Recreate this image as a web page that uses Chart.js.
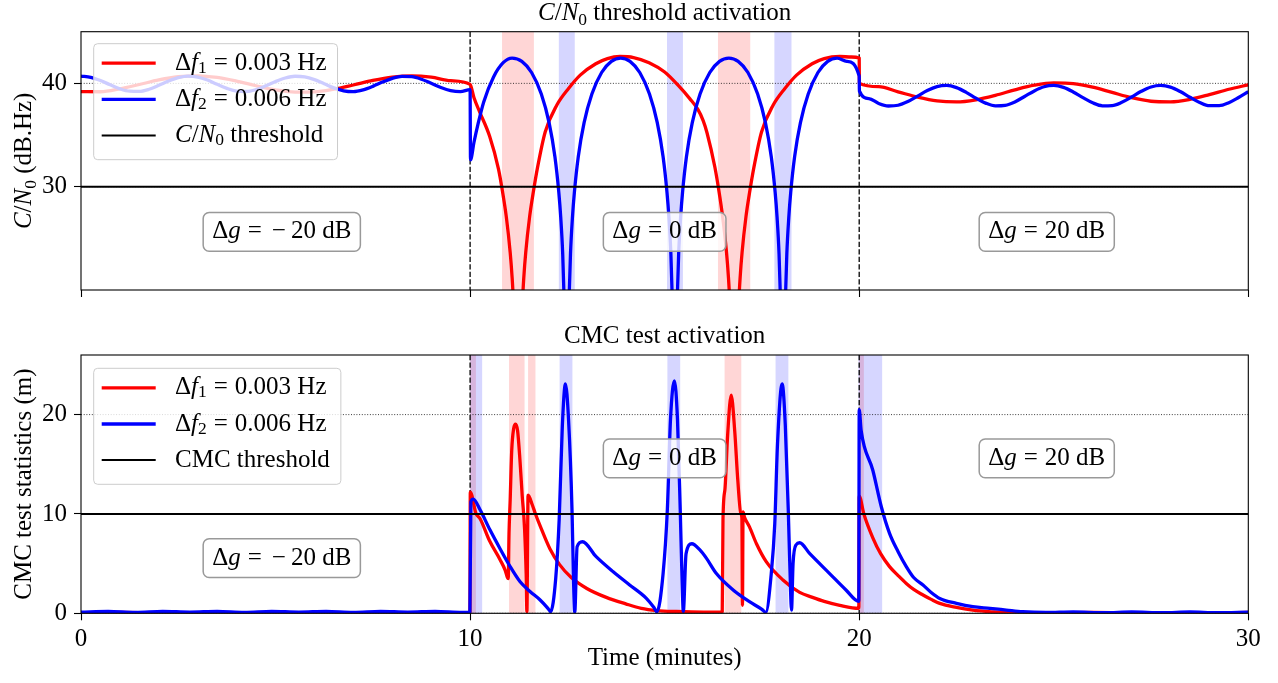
<!DOCTYPE html>
<html><head><meta charset="utf-8">
<script src="https://cdn.jsdelivr.net/npm/chart.js@4.4.1/dist/chart.umd.min.js"></script>
<style>
html,body{margin:0;padding:0;background:#fff;width:1278px;height:683px;overflow:hidden;}
canvas{position:absolute;left:0;display:block;}
#c1{top:0}
#c2{top:320px}
</style></head><body>
<canvas id="c1" width="1278" height="320"></canvas>
<canvas id="c2" width="1278" height="363"></canvas>
<script>
// ---------------- data ----------------
const timeLimits = [0, 30];
const xTicks = [0, 10, 20, 30];
const regionBounds = [10, 20];
const regionGains = ['−20', '0', '20'];
const regionCenters = [5.16, 15.0, 24.82];
const freqLabels = ['0.003', '0.006'];
const cn0Threshold = 30;
const cmcThreshold = 10;
const cn0Ticks = [30, 40];
const cmcTicks = [0, 10, 20];
const cn0Range = [20, 45];
const cmcRange = [0, 26];
const cn0LabelY = [25.63, 25.63, 25.63];
const cmcLabelY = [5.55, 15.6, 15.6];

// C/N0 (dB.Hz), [time (min), value]
const cn0Red = [[0,39.2],[0.5,39.19],[1,39.47],[1.5,39.89],[2,40.33],[2.5,40.64],[3,40.73],[3.5,40.57],[4,40.21],[4.5,39.77],[5,39.37],[5.5,39.15],[6,39.17],[6.5,39.43],[7,39.84],[7.5,40.28],[8,40.61],[8.5,40.73],[9,40.6],[9.5,40.26],[10,39.9],
[10.1,38.6],[10.25,37.2],[10.5,34.9],[10.73,31.7],[10.83,29.6],[10.93,27.1],[11.03,23.65],[11.08,21.2],[11.13,17.6],[11.18,11.6],[11.23,5],[11.28,11.6],[11.33,17.6],[11.38,21.2],[11.43,23.65],[11.53,27.1],[11.63,29.6],[11.73,31.8],[11.93,35.3],[12.23,37.9],[12.53,39.5],[12.83,40.8],[13.23,41.9],[13.53,42.4],[13.85,42.6],
[14.2,42.5],[14.6,42.0],[15.0,41.1],[15.35,39.8],[15.65,38.5],[15.85,37.5],[15.99,36.4],[16.09,35.2],[16.29,31.9],[16.39,29.7],[16.49,27.1],[16.59,23.65],[16.64,21.2],[16.69,17.6],[16.74,11.6],[16.79,5],[16.84,11.6],[16.89,17.6],[16.94,21.2],[16.99,23.65],[17.09,27.1],[17.19,29.6],[17.29,31.8],[17.49,35.3],[17.79,37.9],[18.09,39.5],[18.39,40.8],[18.79,41.9],[19.1,42.4],[19.5,42.6],[19.8,42.55],[20,42.45],
[20.005,40.0],[20.5,39.68],[21,39.18],[21.5,38.67],[22,38.3],[22.5,38.2],[23,38.41],[23.5,38.84],[24,39.37],[24.5,39.82],[25,40.05],[25.5,39.98],[26,39.63],[26.5,39.12],[27,38.61],[27.5,38.27],[28,38.21],[28.5,38.45],[29,38.91],[29.5,39.43],[30,39.86]];

const cn0Blue = [[0,40.7],[0.25,40.58],[0.5,40.27],[0.75,39.86],[1,39.47],[1.25,39.24],[1.5,39.22],[1.75,39.43],[2,39.81],[2.25,40.22],[2.5,40.55],[2.75,40.7],[3,40.61],[3.25,40.32],[3.5,39.91],[3.75,39.52],[4,39.25],[4.25,39.21],[4.5,39.4],[4.75,39.76],[5,40.18],[5.25,40.52],[5.5,40.69],[5.75,40.63],[6,40.36],[6.25,39.96],[6.5,39.56],[6.75,39.28],[7,39.2],[7.25,39.37],[7.5,39.71],[7.75,40.13],[8,40.49],[8.25,40.68],[8.5,40.65],[8.75,40.4],[9,40.01],[9.25,39.6],[9.5,39.3],[9.75,39.2],[10,39.4],
[10.01,32.6],[10.1,34.3],[10.2,36.0],[10.35,38.2],[10.6,40.6],[10.85,42.0],[11.08,42.45],[11.33,42.13],[11.58,41.05],[11.83,38.97],[12.03,36.2],[12.18,32.9],[12.28,29.45],[12.33,27.0],[12.38,23.5],[12.43,17.5],[12.48,10],[12.53,17.5],[12.58,23.5],[12.63,27.0],[12.68,29.45],[12.78,32.9],[12.93,36.2],[13.13,38.97],[13.38,41.05],[13.63,42.13],[13.87,42.45],
[14.11,42.13],[14.36,41.05],[14.61,38.97],[14.81,36.2],[14.96,32.9],[15.06,29.45],[15.11,27.0],[15.16,23.5],[15.21,17.5],[15.26,10],[15.31,17.5],[15.36,23.5],[15.41,27.0],[15.46,29.45],[15.56,32.9],[15.71,36.2],[15.91,38.97],[16.16,41.05],[16.41,42.13],[16.65,42.45],
[16.89,42.13],[17.14,41.05],[17.39,38.97],[17.59,36.2],[17.74,32.9],[17.84,29.45],[17.89,27.0],[17.94,23.5],[17.99,17.5],[18.04,10],[18.09,17.5],[18.14,23.5],[18.19,27.0],[18.24,29.45],[18.34,32.9],[18.49,36.2],[18.69,38.97],[18.94,41.05],[19.19,42.13],[19.43,42.45],[19.68,42.13],[20,40.7],
[20.005,39.26],[20.25,38.53],[20.5,38.05],[20.75,37.81],[21,37.88],[21.25,38.24],[21.5,38.77],[21.75,39.31],[22,39.69],[22.25,39.8],[22.5,39.59],[22.75,39.13],[23,38.57],[23.25,38.09],[23.5,37.82],[23.75,37.87],[24,38.2],[24.25,38.73],[24.5,39.27],[24.75,39.67],[25,39.8],[25.25,39.61],[25.5,39.17],[25.75,38.62],[26,38.12],[26.25,37.83],[26.5,37.85],[26.75,38.17],[27,38.68],[27.25,39.23],[27.5,39.65],[27.75,39.8],[28,39.64],[28.25,39.21],[28.5,38.66],[28.75,38.15],[29,37.84],[29.25,37.84],[29.5,38.13],[29.75,38.63],[30,39.19]];

// CMC test statistics (m)
const cmcRed = [[0,0.05],[1,0.08],[2,0.04],[3,0.06],[4,0.04],[5,0.07],[6,0.04],[7,0.06],[8,0.04],[9,0.06],[9.995,0.05],
[10.005,12.2],[10.15,10.06],[10.26,9.5],[10.5,7.3],[10.77,5.4],[10.9,4.35],[10.96,3.6],[10.98,3.5],[11.0,8.0],[11.03,11.4],[11.07,16.4],[11.12,18.6],[11.17,19.05],[11.22,18.4],[11.28,15.5],[11.34,11.8],[11.4,8.5],[11.44,4.0],[11.46,0.16],[11.49,11.9],[11.6,10.9],[11.68,10.0],[11.8,8.8],[12.05,6.5],[12.3,4.9],[12.6,3.6],[13.0,2.5],[13.5,1.6],[14.0,0.95],[14.4,0.5],[14.8,0.28],[15.3,0.18],[16.0,0.12],[16.48,0.15],
[16.5,9.5],[16.55,12.5],[16.62,18.0],[16.71,21.96],[16.8,18.4],[16.88,13.4],[16.96,10.0],[16.985,9.6],[17.0,0.8],[17.015,10.2],[17.05,9.7],[17.18,8.7],[17.36,7.0],[17.61,5.2],[18.04,3.35],[18.47,2.1],[18.8,1.6],[19.1,1.2],[19.5,0.8],[19.99,0.5],
[20.0,11.8],[20.12,10.0],[20.35,7.6],[20.55,6.0],[20.78,4.7],[21.0,3.8],[21.21,3.0],[21.4,2.4],[21.64,1.84],[21.85,1.4],[22.07,1.0],[22.5,0.6],[22.92,0.33],[23.4,0.15],[23.78,0.06],[25,0.05],[26,0.08],[27,0.05],[28,0.07],[29,0.05],[30,0.08]];

const cmcBlue = [[0,0.12],[0.7,0.2],[1.4,0.1],[2.1,0.2],[2.8,0.12],[3.5,0.2],[4.2,0.1],[4.9,0.2],[5.6,0.12],[6.3,0.2],[7.0,0.1],[7.7,0.2],[8.4,0.12],[9.1,0.2],[9.8,0.1],[9.995,0.12],
[10.02,11.2],[10.08,11.5],[10.26,10.4],[10.51,8.4],[10.77,6.5],[11.03,4.7],[11.28,3.2],[11.54,2.2],[11.8,1.34],[12.0,0.5],[12.07,0.16],
[12.2,3.5],[12.29,9.5],[12.37,18.8],[12.45,23.1],[12.53,19.5],[12.62,10.3],[12.66,3.0],[12.69,0.1],[12.75,6.7],[12.89,7.2],
[13.24,5.7],[13.67,4.2],[14.1,2.85],[14.53,1.5],[14.72,0.6],[14.8,0.16],
[14.96,4.0],[15.07,10.5],[15.15,19.5],[15.25,23.4],[15.33,19.5],[15.4,10.5],[15.45,3.0],[15.48,0.2],[15.55,6.0],[15.7,7.0],
[15.9,6.4],[16.08,5.5],[16.33,4.0],[16.76,2.35],[17.18,1.17],[17.5,0.4],[17.6,0.1],
[17.74,4.0],[17.83,9.0],[17.9,17.0],[18.02,23.1],[18.1,19.0],[18.18,10.0],[18.23,3.0],[18.26,0.33],[18.3,5.0],[18.38,6.9],[18.47,7.1],
[18.73,6.0],[19.24,4.0],[19.66,2.35],[19.99,1.2],
[20.0,20.5],[20.05,18.4],[20.35,14.4],[20.57,10.7],[20.78,8.05],[21.0,6.2],[21.21,4.7],[21.4,3.6],[21.64,2.85],[21.85,2.1],[22.07,1.5],[22.5,1.0],[22.92,0.66],[23.36,0.5],[23.78,0.33],[24.2,0.16],[24.8,0.08],[25.5,0.14],[26.3,0.06],[27.0,0.14],[27.8,0.06],[28.5,0.14],[29.2,0.06],[30,0.12]];

// threshold-exceedance bands [start, end] (min)
const cn0RedBands = [[10.82,11.64],[16.37,17.20]];
const cn0BlueBands = [[12.28,12.69],[15.06,15.47],[17.82,18.26]];
const cmcRedBands = [[10.0,10.15],[11.0,11.4],[11.49,11.68],[16.54,16.97],[20.0,20.12]];
const cmcBlueBands = [[10.0,10.31],[12.30,12.63],[15.07,15.40],[17.85,18.18],[19.98,20.59]];

// ---------------- styling / helpers ----------------
const FONT = '"Liberation Serif", "Times New Roman", serif';
const FS = 25;
const RED = '#ff0000', BLUE = '#0000ff';
const LW = 3.3;

function fontOf(s){ const size = s.sub ? FS*0.7 : FS; return (s.it ? 'italic ' : '') + size + 'px ' + FONT; }
function richWidth(ctx, segs){ let w = 0; for (const s of segs){ if (s.gap){ w += s.gap; continue; } ctx.font = fontOf(s); w += ctx.measureText(s.t).width; } return w; }
function drawRich(ctx, segs, x, y, align){
  const w = richWidth(ctx, segs);
  let cx = align === 'center' ? x - w/2 : (align === 'right' ? x - w : x);
  ctx.textAlign = 'left';
  for (const s of segs){
    if (s.gap){ cx += s.gap; continue; }
    ctx.font = fontOf(s);
    ctx.fillText(s.t, cx, y + (s.sub ? FS*0.2 : 0));
    cx += ctx.measureText(s.t).width;
  }
  return w;
}
const cn0Segs = (rest) => [{t:'C',it:1},{t:'/'},{t:'N',it:1},{t:'0',sub:1},{t:rest}];
const dfSegs = (i) => [{t:'Δ'},{t:'f',it:1},{t:String(i+1),sub:1},{gap:7},{t:'='},{gap:7},{t:freqLabels[i]+' Hz'}];
const dgSegs = (g) => g.startsWith('−')
  ? [{t:'Δ'},{t:'g',it:1},{gap:7},{t:'='},{gap:10},{t:'−'},{gap:5},{t:g.slice(1)+' dB'}]
  : [{t:'Δ'},{t:'g',it:1},{gap:7},{t:'='},{gap:7},{t:g+' dB'}];

function roundRect(ctx, x, y, w, h, r){
  ctx.beginPath();
  ctx.moveTo(x+r, y); ctx.lineTo(x+w-r, y); ctx.arcTo(x+w, y, x+w, y+r, r);
  ctx.lineTo(x+w, y+h-r); ctx.arcTo(x+w, y+h, x+w-r, y+h, r);
  ctx.lineTo(x+r, y+h); ctx.arcTo(x, y+h, x, y+h-r, r);
  ctx.lineTo(x, y+r); ctx.arcTo(x, y, x+r, y, r);
  ctx.closePath();
}

function pts(pairs){ return pairs.map(p => ({x:p[0], y:p[1]})); }
function curve(pairs, color, order){
  return {data: pts(pairs), borderColor: color, backgroundColor: color, borderWidth: LW, pointRadius: 0, pointHoverRadius: 0,
          fill: false, clip: 0, order, cubicInterpolationMode: 'monotone', borderJoinStyle: 'round'};
}
function hline(value){
  return {data: pts(timeLimits.map(t => [t, value])), borderColor: '#000', borderWidth: 2, pointRadius: 0, fill: false, clip: 0, order: 0, tension: 0};
}

function makeDecor(cfg){
  return {
    id: 'decor',
    beforeDatasetsDraw(chart){
      const ctx = chart.ctx, a = chart.chartArea, xs = chart.scales.x, ys = chart.scales.y;
      ctx.save();
      ctx.beginPath(); ctx.rect(a.left, a.top, a.width, a.height); ctx.clip();
      const band = (list, col) => { ctx.fillStyle = col; for (const b of list){ const x1 = xs.getPixelForValue(b[0]), x2 = xs.getPixelForValue(b[1]); ctx.fillRect(x1, a.top, x2-x1, a.height); } };
      band(cfg.redBands, 'rgba(255,0,0,0.16)');
      band(cfg.blueBands, 'rgba(0,0,255,0.16)');
      ctx.strokeStyle = 'rgba(0,0,0,0.85)'; ctx.lineWidth = 0.9; ctx.setLineDash([1, 1.7]);
      for (const v of cfg.yTicks){ const y = ys.getPixelForValue(v); ctx.beginPath(); ctx.moveTo(a.left, y); ctx.lineTo(a.right, y); ctx.stroke(); }
      ctx.strokeStyle = '#000'; ctx.lineWidth = 1.3; ctx.setLineDash([5.2, 2.3]);
      for (const t of regionBounds){ const x = xs.getPixelForValue(t); ctx.beginPath(); ctx.moveTo(x, a.top); ctx.lineTo(x, a.bottom); ctx.stroke(); }
      ctx.restore();
    },
    afterDatasetsDraw(chart){
      const ctx = chart.ctx, a = chart.chartArea, xs = chart.scales.x, ys = chart.scales.y;
      ctx.save();
      ctx.setLineDash([]);
      ctx.strokeStyle = '#000'; ctx.lineWidth = 1.1;
      ctx.strokeRect(a.left, a.top, a.width, a.height);
      ctx.fillStyle = '#000';
      ctx.textBaseline = 'alphabetic';
      regionGains.forEach((g, i) => {
        const segs = dgSegs(g);
        const w = richWidth(ctx, segs);
        const cx = xs.getPixelForValue(regionCenters[i]);
        const cy = ys.getPixelForValue(cfg.labelY[i]);
        const bw = w + 18, bh = 38.7;
        roundRect(ctx, cx - bw/2, cy - bh/2, bw, bh, 6);
        ctx.fillStyle = 'rgba(255,255,255,0.8)'; ctx.fill();
        ctx.strokeStyle = '#999999'; ctx.lineWidth = 1.5; ctx.stroke();
        ctx.fillStyle = '#000';
        drawRich(ctx, segs, cx, cy + 6.5, 'center');
      });
      const entries = [
        {segs: dfSegs(0), color: RED, lw: LW},
        {segs: dfSegs(1), color: BLUE, lw: LW},
        {segs: cfg.thrSegs, color: '#000', lw: 2}
      ];
      const bx = a.left + 12.7, by = a.top + cfg.legendTop;
      const textX = a.left + 94;
      let maxW = 0; for (const e of entries) maxW = Math.max(maxW, richWidth(ctx, e.segs));
      const bw = textX + maxW + 11 - bx, bh = 116;
      roundRect(ctx, bx, by, bw, bh, 4);
      ctx.fillStyle = 'rgba(255,255,255,0.8)'; ctx.fill();
      ctx.strokeStyle = '#cccccc'; ctx.lineWidth = 1; ctx.stroke();
      const rows = [19.5, 55.7, 91.8];
      ctx.textBaseline = 'middle';
      entries.forEach((e, i) => {
        const y = by + rows[i];
        ctx.strokeStyle = e.color; ctx.lineWidth = e.lw; ctx.lineCap = 'butt';
        ctx.beginPath(); ctx.moveTo(a.left + 20.7, y); ctx.lineTo(a.left + 74.7, y); ctx.stroke();
        ctx.fillStyle = '#000';
        drawRich(ctx, e.segs, textX, y, 'left');
      });
      ctx.textBaseline = 'alphabetic';
      drawRich(ctx, cfg.titleSegs, (a.left + a.right)/2, a.top - 11.7, 'center');
      ctx.save();
      ctx.translate(31, (a.top + a.bottom)/2);
      ctx.rotate(-Math.PI/2);
      drawRich(ctx, cfg.ylabelSegs, 0, 0, 'center');
      ctx.restore();
      if (cfg.xlabelSegs) drawRich(ctx, cfg.xlabelSegs, (a.left + a.right)/2, a.bottom + 51.7, 'center');
      ctx.restore();
    }
  };
}

function axisGrid(){ return {display: true, drawOnChartArea: false, drawTicks: true, tickLength: 7, tickWidth: 1.1, tickColor: '#000'}; }

function makeChart(canvas, cfg){
  return new Chart(canvas, {
    type: 'line',
    data: {datasets: cfg.datasets},
    options: {
      responsive: false, animation: false, events: [],
      layout: {padding: cfg.padding},
      scales: {
        x: {type: 'linear', min: timeLimits[0], max: timeLimits[1],
            afterBuildTicks: s => { s.ticks = xTicks.map(v => ({value: v})); },
            afterFit: s => { s.height = cfg.xHeight; },
            grid: axisGrid(), border: {display: false},
            ticks: {display: cfg.xLabels, color: '#000', font: {family: FONT, size: FS}, padding: 4, maxRotation: 0, autoSkip: false}},
        y: {type: 'linear', min: cfg.yRange[0], max: cfg.yRange[1],
            afterBuildTicks: s => { s.ticks = cfg.yTicks.map(v => ({value: v})); },
            afterFit: s => { s.width = 81; },
            grid: axisGrid(), border: {display: false},
            ticks: {color: '#000', font: {family: FONT, size: FS}, padding: 7}}
      },
      plugins: {legend: {display: false}, tooltip: {enabled: false}}
    },
    plugins: [makeDecor(cfg)]
  });
}

makeChart(document.getElementById('c1'), {
  datasets: [hline(cn0Threshold), curve(cn0Blue, BLUE, 1), curve(cn0Red, RED, 2)],
  padding: {left: 0, right: 29.7, top: 31.7, bottom: 10},
  xHeight: 20, xLabels: false,
  yRange: cn0Range, yTicks: cn0Ticks,
  redBands: cn0RedBands, blueBands: cn0BlueBands,
  labelY: cn0LabelY, legendTop: 12,
  thrSegs: cn0Segs(' threshold'),
  titleSegs: cn0Segs(' threshold activation'),
  ylabelSegs: cn0Segs(' (dB.Hz)'),
  xlabelSegs: null
});

makeChart(document.getElementById('c2'), {
  datasets: [hline(cmcThreshold), curve(cmcBlue, BLUE, 1), curve(cmcRed, RED, 2)],
  padding: {left: 0, right: 29.7, top: 35, bottom: 19.7},
  xHeight: 50, xLabels: true,
  yRange: cmcRange, yTicks: cmcTicks,
  redBands: cmcRedBands, blueBands: cmcBlueBands,
  labelY: cmcLabelY, legendTop: 13.3,
  thrSegs: [{t:'CMC threshold'}],
  titleSegs: [{t:'CMC test activation'}],
  ylabelSegs: [{t:'CMC test statistics (m)'}],
  xlabelSegs: [{t:'Time (minutes)'}]
});
</script></body></html>
